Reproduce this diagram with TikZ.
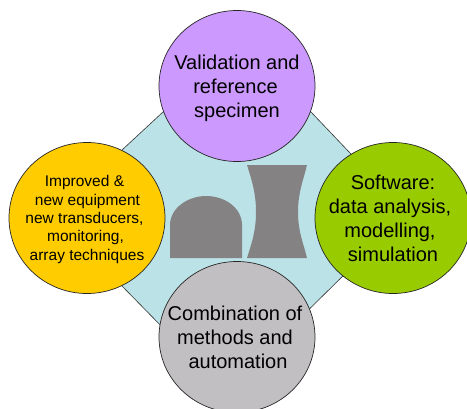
\documentclass[tikz,border=0pt]{standalone}
\usepackage{fontspec}
\setmainfont{Liberation Sans}
\usetikzlibrary{shapes.geometric}
\definecolor{cpurple}{HTML}{CC99FF}
\definecolor{cyellow}{HTML}{FFCC00}
\definecolor{cgreen}{HTML}{99CC00}
\definecolor{cgrey}{HTML}{C2BFC3}
\definecolor{cteal}{HTML}{BBE2E6}
\definecolor{cshape}{HTML}{858284}
\tikzset{
  disc/.style={ellipse,draw=black!85,line width=0.7pt,minimum width=156pt,minimum height=151pt,inner sep=0pt},
  biglabel/.style={align=center,inner sep=0pt,font=\fontsize{20}{24}\selectfont,text=black},
  smalllabel/.style={align=center,inner sep=0pt,font=\fontsize{15.5}{18.4}\selectfont,text=black},
  specimen/.style={fill=cshape,draw=none}
}
\begin{document}
\begin{tikzpicture}[x=1pt,y=-1pt]
\useasboundingbox (0,0) rectangle (467,408);
\path[fill=white] (0,0) rectangle (467,408);
\draw[fill=cteal,draw=black!80,line width=0.6pt] (122,150) -- (163,112) -- (311,112) -- (351,154) -- (351,268) -- (283,335) -- (170,335) -- (122,286) -- cycle;
\path[specimen] (170,258) -- (170,225) .. controls (170,208) and (188,196) .. (206,196) .. controls (225,196) and (242,208) .. (242,225) -- (242,258) -- cycle;
\path[specimen] (247,165) -- (307,165) .. controls (304,178) and (298,192) .. (298,212) .. controls (298,232) and (304,245) .. (307,258) -- (247,258) .. controls (251,245) and (256,232) .. (256,212) .. controls (256,192) and (251,178) .. (247,165) -- cycle;
\node[disc,fill=cpurple] (top) at (237,86) {};
\node[disc,fill=cyellow] (left) at (87,218) {};
\node[disc,fill=cgreen] (right) at (393,218) {};
\node[disc,fill=cgrey] (bottom) at (237,337) {};
\node[biglabel] (toptext) at (237,88) {Validation and\\\hspace*{-3pt}reference\\specimen};
\node[smalllabel] (lefttext) at (85.5,219.5) {\hspace*{-2pt}Improved \&\\\hspace*{4pt}new equipment\\\hspace*{-2pt}new transducers,\\monitoring,\\\hspace*{3pt}array techniques};
\node[biglabel] (righttext) at (390,218) {\hspace*{6pt}Software:\\data analysis,\\modelling,\\\hspace*{6pt}simulation};
\node[biglabel] (bottomtext) at (235,337) {Combination of\\methods and\\\hspace*{6pt}automation};
\end{tikzpicture}
\end{document}
